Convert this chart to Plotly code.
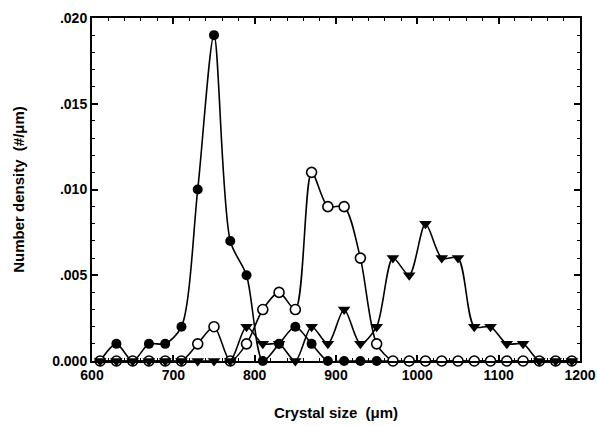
import plotly.graph_objects as go

sizes = [610, 630, 650, 670, 690, 710, 730, 750, 770, 790,
         810, 830, 850, 870, 890, 910, 930, 950, 970, 990,
         1010, 1030, 1050, 1070, 1090, 1110, 1130, 1150, 1170, 1190]

filled_circles = [0, 0.001, 0, 0.001, 0.001, 0.002, 0.010, 0.019, 0.007, 0.005,
                  0, 0.001, 0.002, 0.001, 0, 0, 0, 0, 0, 0,
                  0, 0, 0, 0, 0, 0, 0, 0, 0, 0]

open_circles = [0, 0, 0, 0, 0, 0, 0.001, 0.002, 0, 0.001,
                0.003, 0.004, 0.003, 0.011, 0.009, 0.009, 0.006, 0.001, 0, 0,
                0, 0, 0, 0, 0, 0, 0, 0, 0, 0]

triangles = [0, 0, 0, 0, 0, 0, 0, 0, 0, 0.002,
             0.001, 0.001, 0, 0.002, 0.001, 0.003, 0.001, 0.002, 0.006, 0.005,
             0.008, 0.006, 0.006, 0.002, 0.002, 0.001, 0.001, 0, 0, 0]

x_ticks = [600, 700, 800, 900, 1000, 1100, 1200]
y_ticks = [0, 0.005, 0.010, 0.015, 0.020]
y_tick_text = ["0.000", ".005", ".010", ".015", ".020"]

FONT = "Liberation Sans"
line = dict(color="black", width=1.6, shape="spline", smoothing=0.8)

fig = go.Figure()
fig.add_trace(go.Scatter(x=sizes, y=filled_circles, mode="lines+markers", line=line,
                         marker=dict(symbol="circle", size=10, color="black"),
                         cliponaxis=False, showlegend=False))
fig.add_trace(go.Scatter(x=sizes, y=open_circles, mode="lines+markers", line=line,
                         marker=dict(symbol="circle", size=10, color="white",
                                     line=dict(color="black", width=1.6)),
                         cliponaxis=False, showlegend=False))
fig.add_trace(go.Scatter(x=sizes, y=triangles, mode="lines+markers", line=line,
                         marker=dict(symbol="triangle-down", size=11, color="black"),
                         cliponaxis=False, showlegend=False))

axis_common = dict(showline=True, linecolor="black", linewidth=2, mirror="ticks",
                   ticks="inside", ticklen=6, tickwidth=1.5, tickcolor="black",
                   showgrid=False, zeroline=False, automargin=False,
                   tickfont=dict(family=FONT, size=14, color="black", weight="bold"))

fig.update_xaxes(range=[600, 1200], tickvals=x_ticks,
                 minor=dict(ticks="inside", ticklen=3, dtick=20, tickcolor="black", tickwidth=1),
                 title=dict(text="Crystal size  (μm)", standoff=26,
                            font=dict(family=FONT, size=15, color="black", weight="bold")),
                 **axis_common)
fig.update_yaxes(range=[0, 0.020], tickvals=y_ticks, ticktext=y_tick_text,
                 minor=dict(ticks="inside", ticklen=3, dtick=0.001, tickcolor="black", tickwidth=1),
                 title=dict(text="Number density  (#/μm)", standoff=24,
                            font=dict(family=FONT, size=15, color="black", weight="bold")),
                 **axis_common)

fig.update_layout(width=597, height=426, margin=dict(l=92, r=17, t=18, b=65),
                  plot_bgcolor="white", paper_bgcolor="white")

fig.write_html("out.html")
